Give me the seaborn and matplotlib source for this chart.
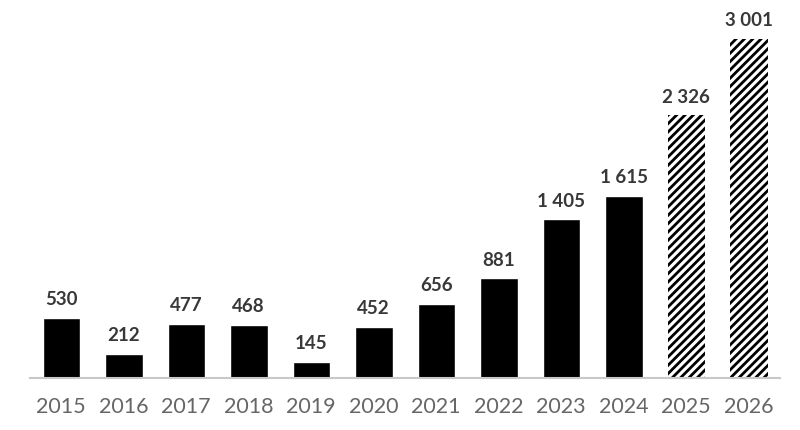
import matplotlib
matplotlib.use("Agg")
import matplotlib.pyplot as plt
import seaborn as sns
import pandas as pd

years = ["2015", "2016", "2017", "2018", "2019", "2020", "2021", "2022", "2023", "2024", "2025", "2026"]
values = [530, 212, 477, 468, 145, 452, 656, 881, 1405, 1615, 2326, 3001]
forecast = [False] * 10 + [True, True]
labels = ["530", "212", "477", "468", "145", "452", "656", "881", "1 405", "1 615", "2 326", "3 001"]

sns.set_theme(style="white")
plt.rcParams["font.family"] = ["Lato", "DejaVu Sans"]
plt.rcParams["hatch.linewidth"] = 2.0

df = pd.DataFrame({"year": years, "value": values})

fig = plt.figure(figsize=(8, 4.3), dpi=100)
ax = fig.add_axes([0.0375, 52 / 430, 0.9375, 1 - 52 / 430 - 10 / 430])
sns.barplot(data=df, x="year", y="value", color="black", width=0.6, ax=ax, saturation=1)

for patch, fc, lab in zip(ax.patches, forecast, labels):
    if fc:
        patch.set_facecolor("white")
        patch.set_edgecolor("black")
        patch.set_hatch("////")
        patch.set_linewidth(0)
    x = patch.get_x() + patch.get_width() / 2
    h = patch.get_height()
    ax.annotate(lab, (x, h), xytext=(0, 7), textcoords="offset points",
                ha="center", va="bottom", fontsize=13.5, fontweight="bold", color="#383838")

ax.set_xlim(-0.5, 11.5)
ax.set_ylim(0, 3001 * 368 / 339)
ax.set_xlabel("")
ax.set_ylabel("")
ax.set_yticks([])
for s in ["top", "right", "left"]:
    ax.spines[s].set_visible(False)
ax.spines["bottom"].set_color("#c8c8c8")
ax.spines["bottom"].set_linewidth(1.5)
ax.tick_params(axis="x", length=0, pad=14, labelsize=15.5, labelcolor="#666666")

fig.savefig("out.png", dpi=100)
